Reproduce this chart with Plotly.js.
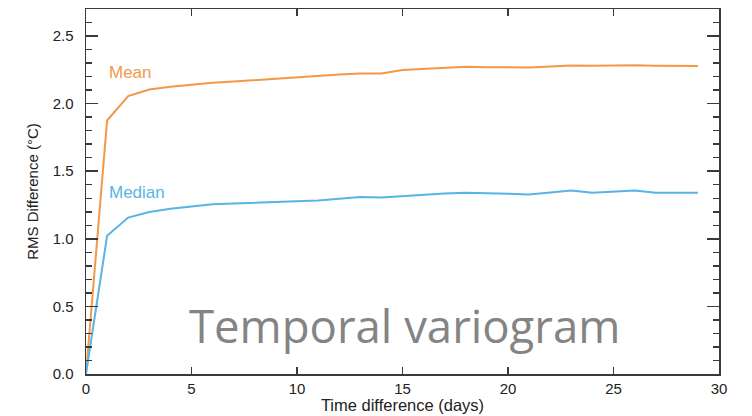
<!DOCTYPE html>
<html>
<head>
<meta charset="utf-8">
<script src="https://cdn.plot.ly/plotly-3.0.1.min.js"></script>
<style>html,body{margin:0;padding:0;background:#fff;}#chart{width:752px;height:416px;}</style>
</head>
<body>
<div id="chart"></div>
<script>
const days = [0,1,2,3,4,5,6,7,8,9,10,11,12,13,14,15,16,17,18,19,20,21,22,23,24,25,26,27,28,29];
const meanRms = [0,1.875,2.056,2.105,2.125,2.14,2.154,2.163,2.174,2.183,2.194,2.205,2.216,2.223,2.223,2.248,2.255,2.266,2.272,2.27,2.27,2.267,2.275,2.282,2.28,2.284,2.284,2.28,2.278,2.278];
const medianRms = [0,1.022,1.157,1.199,1.223,1.238,1.255,1.261,1.267,1.273,1.279,1.283,1.297,1.309,1.305,1.316,1.322,1.335,1.34,1.338,1.334,1.328,1.342,1.358,1.34,1.35,1.358,1.34,1.34,1.34];
const seriesNames = ["Mean","Median"];
const xTickVals = [0,5,10,15,20,25,30];
const yTickVals = [0,0.5,1.0,1.5,2.0,2.5];
const yTickText = ["0.0","0.5","1.0","1.5","2.0","2.5"];
const chartTitle = "Temporal variogram";

const orange = "rgb(244,152,72)";
const blue = "rgb(88,180,228)";
const axisCol = "#3a3a3a";
const fam = "'Liberation Sans', Arial, Helvetica, sans-serif";

const traces = [
  {x: days, y: meanRms, type: "scatter", mode: "lines", name: seriesNames[0], line: {color: orange, width: 2}},
  {x: days, y: medianRms, type: "scatter", mode: "lines", name: seriesNames[1], line: {color: blue, width: 2}}
];

const layout = {
  width: 752, height: 416,
  margin: {l: 86, r: 33, t: 9, b: 42},
  paper_bgcolor: "#fff", plot_bgcolor: "#fff",
  showlegend: false,
  font: {family: fam, size: 15, color: "#222"},
  xaxis: {
    range: [0, 30], tickvals: xTickVals, ticks: "inside", ticklen: 7, tickwidth: 1.5, tickcolor: axisCol,
    showline: true, linecolor: axisCol, linewidth: 1.5, mirror: "ticks", showgrid: false, zeroline: false,
    tickfont: {family: fam, size: 15, color: "#222"},
    title: {text: "Time difference (days)", font: {family: fam, size: 16.5, color: "#222"}, standoff: 0}
  },
  yaxis: {
    range: [0, 2.7], tickvals: yTickVals, ticktext: yTickText, ticks: "inside", ticklen: 12, tickwidth: 1.5, tickcolor: axisCol,
    ticklabelstandoff: 8,
    minor: {dtick: 0.1, ticks: "inside", ticklen: 6, tickwidth: 1.5, tickcolor: axisCol, showgrid: false},
    showline: true, linecolor: axisCol, linewidth: 1.5, mirror: "ticks", showgrid: false, zeroline: false,
    tickfont: {family: fam, size: 15, color: "#222"},
    title: {text: "RMS Difference (°C)", font: {family: fam, size: 15, color: "#222"}, standoff: 10}
  },
  annotations: [
    {x: 1.0, y: 2.23, xref: "x", yref: "y", text: seriesNames[0], showarrow: false, xanchor: "left", yanchor: "middle",
     font: {family: fam, size: 17, color: orange}},
    {x: 1.0, y: 1.34, xref: "x", yref: "y", text: seriesNames[1], showarrow: false, xanchor: "left", yanchor: "middle",
     font: {family: fam, size: 17, color: blue}},
    {x: 15.1, y: 0.36, xref: "x", yref: "y", text: chartTitle, showarrow: false, xanchor: "center", yanchor: "middle",
     font: {family: "'Open Sans', sans-serif", size: 45.5, color: "#848484"}}
  ]
};

Plotly.newPlot("chart", traces, layout, {displayModeBar: false, staticPlot: true});
</script>
</body>
</html>
